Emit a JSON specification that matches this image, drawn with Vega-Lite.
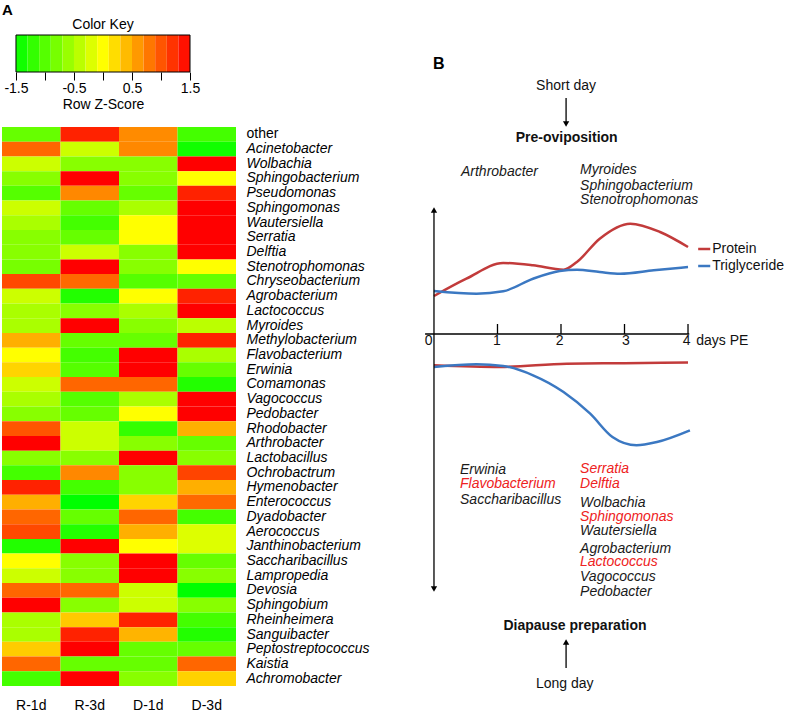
{
  "$schema": "https://vega.github.io/schema/vega-lite/v6.json",
  "padding": {"left": 2, "top": 2, "right": 0, "bottom": 0},
  "background": "white",
  "config": {
    "font": "Liberation Sans",
    "view": {"stroke": null},
    "axis": {"labelColor": "#000", "titleColor": "#000", "labelFontSize": 14, "titleFontSize": 14, "titleFontWeight": "normal", "grid": false},
    "text": {"fontSize": 14, "font": "Liberation Sans"}
  },
  "spacing": 11,
  "hconcat": [
    {
      "title": {"text": "A", "anchor": "start", "fontSize": 15, "fontWeight": "bold", "offset": 0, "color": "#000"},
      "spacing": 15,
      "vconcat": [
        {
          "title": {"text": "Color Key", "fontSize": 14, "fontWeight": "normal", "dx": 7, "offset": 3, "color": "#000"},
          "width": 188,
          "height": 37,
          "data": {"values": [
            {"lo": -1.5, "hi": -1.3, "z": -1.4, "frame": false}, {"lo": -1.3, "hi": -1.1, "z": -1.2, "frame": false}, {"lo": -1.1, "hi": -0.9, "z": -1.0, "frame": false},
            {"lo": -0.9, "hi": -0.7, "z": -0.8, "frame": false}, {"lo": -0.7, "hi": -0.5, "z": -0.6, "frame": false}, {"lo": -0.5, "hi": -0.3, "z": -0.4, "frame": false},
            {"lo": -0.3, "hi": -0.1, "z": -0.2, "frame": false}, {"lo": -0.1, "hi": 0.1, "z": 0.0, "frame": false}, {"lo": 0.1, "hi": 0.3, "z": 0.2, "frame": false},
            {"lo": 0.3, "hi": 0.5, "z": 0.4, "frame": false}, {"lo": 0.5, "hi": 0.7, "z": 0.6, "frame": false}, {"lo": 0.7, "hi": 0.9, "z": 0.8, "frame": false},
            {"lo": 0.9, "hi": 1.1, "z": 1.0, "frame": false}, {"lo": 1.1, "hi": 1.3, "z": 1.2, "frame": false}, {"lo": 1.3, "hi": 1.5, "z": 1.4, "frame": false},
            {"lo": -1.5, "hi": 1.5, "z": 0.0, "frame": true}
          ]},
          "mark": {"type": "rect", "strokeWidth": 1},
          "encoding": {
            "x": {"field": "lo", "type": "quantitative", "scale": {"domain": [-1.741, 1.5], "nice": false, "zero": false},
              "axis": {"orient": "bottom", "values": [-1.5, -1, -0.5, 0, 0.5, 1, 1.5], "domain": false, "tickSize": 8, "tickColor": "#000",
                "labelPadding": 1, "labelFlush": false, "labelOverlap": false,
                "labelExpr": "abs(datum.value) == 1.5 || abs(datum.value) == 0.5 ? (datum.value < 0 ? '-' : '') + format(abs(datum.value), '.1f') : ''",
                "title": "Row Z-Score", "titleX": 101, "titleY": 25, "titleBaseline": "top"}},
            "x2": {"field": "hi"},
            "fill": {"condition": {"test": "datum.frame", "value": "transparent"}, "field": "z", "type": "quantitative", "scale": {"domain": [-1.5, 0, 1.5], "range": ["#00ff00", "#ffff00", "#ff0000"], "interpolate": "rgb"}, "legend": null},
            "stroke": {"condition": {"test": "datum.frame", "value": "#000"}, "value": null}
          }
        },
        {
          "width": 234,
          "height": 559,
          "data": {"values": [
            {"g": "other", "s": "R-1d", "z": -0.9}, {"g": "other", "s": "R-3d", "z": 1.3}, {"g": "other", "s": "D-1d", "z": 0.68}, {"g": "other", "s": "D-3d", "z": -1.1},
            {"g": "Acinetobacter", "s": "R-1d", "z": 0.9}, {"g": "Acinetobacter", "s": "R-3d", "z": -0.3}, {"g": "Acinetobacter", "s": "D-1d", "z": 0.7}, {"g": "Acinetobacter", "s": "D-3d", "z": -1.4},
            {"g": "Wolbachia", "s": "R-1d", "z": -0.3}, {"g": "Wolbachia", "s": "R-3d", "z": -0.7}, {"g": "Wolbachia", "s": "D-1d", "z": -0.7}, {"g": "Wolbachia", "s": "D-3d", "z": 1.5},
            {"g": "Sphingobacterium", "s": "R-1d", "z": -0.7}, {"g": "Sphingobacterium", "s": "R-3d", "z": 1.5}, {"g": "Sphingobacterium", "s": "D-1d", "z": -0.7}, {"g": "Sphingobacterium", "s": "D-3d", "z": 0.0},
            {"g": "Pseudomonas", "s": "R-1d", "z": -1.0}, {"g": "Pseudomonas", "s": "R-3d", "z": 0.7}, {"g": "Pseudomonas", "s": "D-1d", "z": -0.9}, {"g": "Pseudomonas", "s": "D-3d", "z": 1.3},
            {"g": "Sphingomonas", "s": "R-1d", "z": -0.3}, {"g": "Sphingomonas", "s": "R-3d", "z": -0.9}, {"g": "Sphingomonas", "s": "D-1d", "z": -0.5}, {"g": "Sphingomonas", "s": "D-3d", "z": 1.5},
            {"g": "Wautersiella", "s": "R-1d", "z": -0.5}, {"g": "Wautersiella", "s": "R-3d", "z": -1.1}, {"g": "Wautersiella", "s": "D-1d", "z": 0.0}, {"g": "Wautersiella", "s": "D-3d", "z": 1.5},
            {"g": "Serratia", "s": "R-1d", "z": -0.7}, {"g": "Serratia", "s": "R-3d", "z": -0.9}, {"g": "Serratia", "s": "D-1d", "z": 0.0}, {"g": "Serratia", "s": "D-3d", "z": 1.5},
            {"g": "Delftia", "s": "R-1d", "z": -0.7}, {"g": "Delftia", "s": "R-3d", "z": -0.3}, {"g": "Delftia", "s": "D-1d", "z": -0.7}, {"g": "Delftia", "s": "D-3d", "z": 1.5},
            {"g": "Stenotrophomonas", "s": "R-1d", "z": -0.8}, {"g": "Stenotrophomonas", "s": "R-3d", "z": 1.5}, {"g": "Stenotrophomonas", "s": "D-1d", "z": -0.7}, {"g": "Stenotrophomonas", "s": "D-3d", "z": 0.0},
            {"g": "Chryseobacterium", "s": "R-1d", "z": 1.07}, {"g": "Chryseobacterium", "s": "R-3d", "z": 0.88}, {"g": "Chryseobacterium", "s": "D-1d", "z": -1.0}, {"g": "Chryseobacterium", "s": "D-3d", "z": -0.9},
            {"g": "Agrobacterium", "s": "R-1d", "z": -0.3}, {"g": "Agrobacterium", "s": "R-3d", "z": -1.3}, {"g": "Agrobacterium", "s": "D-1d", "z": 0.0}, {"g": "Agrobacterium", "s": "D-3d", "z": 1.3},
            {"g": "Lactococcus", "s": "R-1d", "z": -0.5}, {"g": "Lactococcus", "s": "R-3d", "z": -0.7}, {"g": "Lactococcus", "s": "D-1d", "z": -0.5}, {"g": "Lactococcus", "s": "D-3d", "z": 1.5},
            {"g": "Myroides", "s": "R-1d", "z": -0.5}, {"g": "Myroides", "s": "R-3d", "z": 1.5}, {"g": "Myroides", "s": "D-1d", "z": -0.7}, {"g": "Myroides", "s": "D-3d", "z": -0.4},
            {"g": "Methylobacterium", "s": "R-1d", "z": 0.47}, {"g": "Methylobacterium", "s": "R-3d", "z": -0.9}, {"g": "Methylobacterium", "s": "D-1d", "z": -0.9}, {"g": "Methylobacterium", "s": "D-3d", "z": 1.3},
            {"g": "Flavobacterium", "s": "R-1d", "z": 0.0}, {"g": "Flavobacterium", "s": "R-3d", "z": -1.1}, {"g": "Flavobacterium", "s": "D-1d", "z": 1.5}, {"g": "Flavobacterium", "s": "D-3d", "z": -0.5},
            {"g": "Erwinia", "s": "R-1d", "z": 0.25}, {"g": "Erwinia", "s": "R-3d", "z": -1.0}, {"g": "Erwinia", "s": "D-1d", "z": 1.5}, {"g": "Erwinia", "s": "D-3d", "z": -0.9},
            {"g": "Comamonas", "s": "R-1d", "z": -0.3}, {"g": "Comamonas", "s": "R-3d", "z": 0.9}, {"g": "Comamonas", "s": "D-1d", "z": 0.9}, {"g": "Comamonas", "s": "D-3d", "z": -1.3},
            {"g": "Vagococcus", "s": "R-1d", "z": -0.5}, {"g": "Vagococcus", "s": "R-3d", "z": -1.0}, {"g": "Vagococcus", "s": "D-1d", "z": -0.5}, {"g": "Vagococcus", "s": "D-3d", "z": 1.5},
            {"g": "Pedobacter", "s": "R-1d", "z": -0.7}, {"g": "Pedobacter", "s": "R-3d", "z": -0.9}, {"g": "Pedobacter", "s": "D-1d", "z": 0.0}, {"g": "Pedobacter", "s": "D-3d", "z": 1.5},
            {"g": "Rhodobacter", "s": "R-1d", "z": 1.0}, {"g": "Rhodobacter", "s": "R-3d", "z": -0.3}, {"g": "Rhodobacter", "s": "D-1d", "z": -1.2}, {"g": "Rhodobacter", "s": "D-3d", "z": 0.47},
            {"g": "Arthrobacter", "s": "R-1d", "z": 1.5}, {"g": "Arthrobacter", "s": "R-3d", "z": -0.3}, {"g": "Arthrobacter", "s": "D-1d", "z": -0.7}, {"g": "Arthrobacter", "s": "D-3d", "z": -0.9},
            {"g": "Lactobacillus", "s": "R-1d", "z": -0.7}, {"g": "Lactobacillus", "s": "R-3d", "z": -0.7}, {"g": "Lactobacillus", "s": "D-1d", "z": 1.5}, {"g": "Lactobacillus", "s": "D-3d", "z": -0.7},
            {"g": "Ochrobactrum", "s": "R-1d", "z": -1.1}, {"g": "Ochrobactrum", "s": "R-3d", "z": 0.7}, {"g": "Ochrobactrum", "s": "D-1d", "z": -0.7}, {"g": "Ochrobactrum", "s": "D-3d", "z": 1.1},
            {"g": "Hymenobacter", "s": "R-1d", "z": 1.3}, {"g": "Hymenobacter", "s": "R-3d", "z": -1.1}, {"g": "Hymenobacter", "s": "D-1d", "z": -0.7}, {"g": "Hymenobacter", "s": "D-3d", "z": 0.47},
            {"g": "Enterococcus", "s": "R-1d", "z": 0.47}, {"g": "Enterococcus", "s": "R-3d", "z": -1.5}, {"g": "Enterococcus", "s": "D-1d", "z": 0.25}, {"g": "Enterococcus", "s": "D-3d", "z": 0.88},
            {"g": "Dyadobacter", "s": "R-1d", "z": 0.9}, {"g": "Dyadobacter", "s": "R-3d", "z": -0.9}, {"g": "Dyadobacter", "s": "D-1d", "z": 0.9}, {"g": "Dyadobacter", "s": "D-3d", "z": -1.1},
            {"g": "Aerococcus", "s": "R-1d", "z": 1.07}, {"g": "Aerococcus", "s": "R-3d", "z": -1.3}, {"g": "Aerococcus", "s": "D-1d", "z": 0.47}, {"g": "Aerococcus", "s": "D-3d", "z": -0.2},
            {"g": "Janthinobacterium", "s": "R-1d", "z": -1.3}, {"g": "Janthinobacterium", "s": "R-3d", "z": 1.5}, {"g": "Janthinobacterium", "s": "D-1d", "z": 0.0}, {"g": "Janthinobacterium", "s": "D-3d", "z": -0.2},
            {"g": "Saccharibacillus", "s": "R-1d", "z": 0.0}, {"g": "Saccharibacillus", "s": "R-3d", "z": -0.7}, {"g": "Saccharibacillus", "s": "D-1d", "z": 1.5}, {"g": "Saccharibacillus", "s": "D-3d", "z": -0.9},
            {"g": "Lampropedia", "s": "R-1d", "z": -0.3}, {"g": "Lampropedia", "s": "R-3d", "z": -0.7}, {"g": "Lampropedia", "s": "D-1d", "z": 1.5}, {"g": "Lampropedia", "s": "D-3d", "z": -0.7},
            {"g": "Devosia", "s": "R-1d", "z": 0.9}, {"g": "Devosia", "s": "R-3d", "z": 0.9}, {"g": "Devosia", "s": "D-1d", "z": -0.3}, {"g": "Devosia", "s": "D-3d", "z": -1.5},
            {"g": "Sphingobium", "s": "R-1d", "z": 1.5}, {"g": "Sphingobium", "s": "R-3d", "z": -0.7}, {"g": "Sphingobium", "s": "D-1d", "z": -0.3}, {"g": "Sphingobium", "s": "D-3d", "z": -0.7},
            {"g": "Rheinheimera", "s": "R-1d", "z": -0.5}, {"g": "Rheinheimera", "s": "R-3d", "z": 0.32}, {"g": "Rheinheimera", "s": "D-1d", "z": 1.3}, {"g": "Rheinheimera", "s": "D-3d", "z": -1.1},
            {"g": "Sanguibacter", "s": "R-1d", "z": -0.5}, {"g": "Sanguibacter", "s": "R-3d", "z": 1.3}, {"g": "Sanguibacter", "s": "D-1d", "z": 0.44}, {"g": "Sanguibacter", "s": "D-3d", "z": -1.3},
            {"g": "Peptostreptococcus", "s": "R-1d", "z": 0.3}, {"g": "Peptostreptococcus", "s": "R-3d", "z": 1.5}, {"g": "Peptostreptococcus", "s": "D-1d", "z": -0.9}, {"g": "Peptostreptococcus", "s": "D-3d", "z": -0.9},
            {"g": "Kaistia", "s": "R-1d", "z": 0.9}, {"g": "Kaistia", "s": "R-3d", "z": -0.9}, {"g": "Kaistia", "s": "D-1d", "z": -0.9}, {"g": "Kaistia", "s": "D-3d", "z": 0.9},
            {"g": "Achromobacter", "s": "R-1d", "z": -1.1}, {"g": "Achromobacter", "s": "R-3d", "z": 1.5}, {"g": "Achromobacter", "s": "D-1d", "z": -0.7}, {"g": "Achromobacter", "s": "D-3d", "z": 0.27}
          ]},
          "mark": {"type": "rect"},
          "encoding": {
            "x": {"field": "s", "type": "nominal", "sort": ["R-1d", "R-3d", "D-1d", "D-3d"], "scale": {"paddingInner": 0, "paddingOuter": 0},
              "axis": {"orient": "bottom", "title": null, "ticks": false, "domain": false, "labelAngle": 0, "labelPadding": 12}},
            "y": {"field": "g", "type": "nominal",
              "sort": ["other", "Acinetobacter", "Wolbachia", "Sphingobacterium", "Pseudomonas", "Sphingomonas", "Wautersiella", "Serratia", "Delftia", "Stenotrophomonas", "Chryseobacterium", "Agrobacterium", "Lactococcus", "Myroides", "Methylobacterium", "Flavobacterium", "Erwinia", "Comamonas", "Vagococcus", "Pedobacter", "Rhodobacter", "Arthrobacter", "Lactobacillus", "Ochrobactrum", "Hymenobacter", "Enterococcus", "Dyadobacter", "Aerococcus", "Janthinobacterium", "Saccharibacillus", "Lampropedia", "Devosia", "Sphingobium", "Rheinheimera", "Sanguibacter", "Peptostreptococcus", "Kaistia", "Achromobacter"],
              "scale": {"paddingInner": 0, "paddingOuter": 0},
              "axis": {"orient": "right", "title": null, "ticks": false, "domain": false, "labelPadding": 10, "labelOverlap": false,
                "labelFontStyle": {"condition": {"test": "datum.value == 'other'", "value": "normal"}, "value": "italic"}}},
            "fill": {"field": "z", "type": "quantitative", "scale": {"domain": [-1.5, 0, 1.5], "range": ["#00ff00", "#ffff00", "#ff0000"], "interpolate": "rgb"}, "legend": null}
          }
        }
      ]
    },
    {
      "width": 390,
      "height": 668,
      "encoding": {
        "x": {"field": "day", "type": "quantitative", "scale": {"domain": [-0.85, 5.291], "nice": false, "zero": false}, "axis": null},
        "y": {"field": "level", "type": "quantitative", "scale": {"domain": [-36.9, 29.9], "nice": false, "zero": false}, "axis": null}
      },
      "layer": [
        {
          "data": {"values": [
            {"series": "Protein", "part": "up", "day": 0, "level": 3.8}, {"series": "Protein", "part": "up", "day": 0.51, "level": 5.53},
            {"series": "Protein", "part": "up", "day": 1.09, "level": 7.1}, {"series": "Protein", "part": "up", "day": 1.56, "level": 6.87},
            {"series": "Protein", "part": "up", "day": 2.04, "level": 6.43}, {"series": "Protein", "part": "up", "day": 2.25, "level": 7.2},
            {"series": "Protein", "part": "up", "day": 2.61, "level": 9.53}, {"series": "Protein", "part": "up", "day": 3.09, "level": 11.03},
            {"series": "Protein", "part": "up", "day": 3.56, "level": 10.2}, {"series": "Protein", "part": "up", "day": 4.0, "level": 8.7},
            {"series": "Triglyceride", "part": "up", "day": 0, "level": 4.3}, {"series": "Triglyceride", "part": "up", "day": 0.67, "level": 4.03},
            {"series": "Triglyceride", "part": "up", "day": 1.09, "level": 4.27}, {"series": "Triglyceride", "part": "up", "day": 1.56, "level": 5.53},
            {"series": "Triglyceride", "part": "up", "day": 1.98, "level": 6.3}, {"series": "Triglyceride", "part": "up", "day": 2.25, "level": 6.43},
            {"series": "Triglyceride", "part": "up", "day": 2.61, "level": 6.2}, {"series": "Triglyceride", "part": "up", "day": 2.93, "level": 6.03},
            {"series": "Triglyceride", "part": "up", "day": 3.46, "level": 6.37}, {"series": "Triglyceride", "part": "up", "day": 4.0, "level": 6.7},
            {"series": "Protein", "part": "down", "day": 0, "level": -3.13}, {"series": "Protein", "part": "down", "day": 1.04, "level": -3.3},
            {"series": "Protein", "part": "down", "day": 2.09, "level": -2.97}, {"series": "Protein", "part": "down", "day": 3.0, "level": -2.92},
            {"series": "Protein", "part": "down", "day": 4.0, "level": -2.85},
            {"series": "Triglyceride", "part": "down", "day": 0, "level": -3.3}, {"series": "Triglyceride", "part": "down", "day": 0.67, "level": -3.03},
            {"series": "Triglyceride", "part": "down", "day": 1.09, "level": -3.2}, {"series": "Triglyceride", "part": "down", "day": 1.56, "level": -4.13},
            {"series": "Triglyceride", "part": "down", "day": 2.04, "level": -5.8}, {"series": "Triglyceride", "part": "down", "day": 2.46, "level": -7.97},
            {"series": "Triglyceride", "part": "down", "day": 2.81, "level": -10.3}, {"series": "Triglyceride", "part": "down", "day": 3.19, "level": -11.13},
            {"series": "Triglyceride", "part": "down", "day": 3.51, "level": -10.8}, {"series": "Triglyceride", "part": "down", "day": 4.03, "level": -9.63}
          ]},
          "mark": {"type": "line", "interpolate": "monotone", "strokeWidth": 2.5},
          "encoding": {
            "color": {"field": "series", "type": "nominal", "scale": {"domain": ["Protein", "Triglyceride"], "range": ["#c23b3b", "#3b78c2"]}, "legend": null},
            "detail": {"field": "part"}
          }
        },
        {
          "data": {"values": [
            {"series": "Protein", "day": 4.16, "day2": 4.35, "level": 8.5},
            {"series": "Triglyceride", "day": 4.16, "day2": 4.35, "level": 6.8}
          ]},
          "mark": {"type": "rule", "strokeWidth": 2.5},
          "encoding": {
            "x2": {"field": "day2"},
            "color": {"field": "series", "type": "nominal", "scale": {"domain": ["Protein", "Triglyceride"], "range": ["#c23b3b", "#3b78c2"]}, "legend": null}
          }
        },
        {
          "data": {"values": [
            {"day": -0.14, "level": 0, "day2": 4.02, "level2": 0},
            {"day": 0, "level": 12.3, "day2": 0, "level2": -25.4},
            {"day": 1, "level": 0, "day2": 1, "level2": 1},
            {"day": 2, "level": 0, "day2": 2, "level2": 1},
            {"day": 3, "level": 0, "day2": 3, "level2": 1},
            {"day": 4, "level": 0, "day2": 4, "level2": 1},
            {"day": 2.08, "level": 23.6, "day2": 2.08, "level2": 21.2},
            {"day": 2.08, "level": -33.4, "day2": 2.08, "level2": -31.0}
          ]},
          "mark": {"type": "rule", "color": "#000", "strokeWidth": 1.3},
          "encoding": {"x2": {"field": "day2"}, "y2": {"field": "level2"}}
        },
        {
          "data": {"values": [
            {"day": 0, "level": 12.4, "dir": "up"},
            {"day": 0, "level": -25.5, "dir": "down"},
            {"day": 2.08, "level": 21.0, "dir": "down"},
            {"day": 2.08, "level": -30.8, "dir": "up"}
          ]},
          "mark": {"type": "point", "filled": true, "color": "#000", "opacity": 1, "size": 40},
          "encoding": {"shape": {"field": "dir", "type": "nominal", "scale": {"domain": ["up", "down"], "range": ["triangle-up", "triangle-down"]}, "legend": null}}
        },
        {
          "data": {"values": [
            {"label": "Short day", "day": 2.08, "level": 24.8},
            {"label": "Long day", "day": 2.06, "level": -35.0},
            {"label": "0", "day": -0.085, "level": -0.7},
            {"label": "1", "day": 0.99, "level": -0.7},
            {"label": "2", "day": 1.98, "level": -0.7},
            {"label": "3", "day": 3.02, "level": -0.7},
            {"label": "4", "day": 3.98, "level": -0.7}
          ]},
          "mark": {"type": "text", "align": "center", "baseline": "middle", "fontSize": 14, "color": "#111"},
          "encoding": {"text": {"field": "label"}}
        },
        {
          "data": {"values": [
            {"label": "days PE", "day": 4.13, "level": -0.7},
            {"label": "Protein", "day": 4.38, "level": 8.5},
            {"label": "Triglyceride", "day": 4.38, "level": 6.8}
          ]},
          "mark": {"type": "text", "align": "left", "baseline": "middle", "fontSize": 14, "color": "#111"},
          "encoding": {"text": {"field": "label"}}
        },
        {
          "data": {"values": [
            {"label": "Pre-oviposition", "day": 2.09, "level": 19.6},
            {"label": "Diapause preparation", "day": 2.22, "level": -29.2}
          ]},
          "mark": {"type": "text", "align": "center", "baseline": "middle", "fontSize": 14, "fontWeight": "bold", "color": "#111"},
          "encoding": {"text": {"field": "label"}}
        },
        {
          "data": {"values": [{"label": "B", "day": -0.016, "level": 27.0}]},
          "mark": {"type": "text", "align": "left", "baseline": "middle", "fontSize": 16, "fontWeight": "bold", "color": "#000"},
          "encoding": {"text": {"field": "label"}}
        },
        {
          "data": {"values": [
            {"label": "Arthrobacter", "day": 0.425, "level": 16.2, "marked": false},
            {"label": "Myroides", "day": 2.3, "level": 16.4, "marked": false},
            {"label": "Sphingobacterium", "day": 2.3, "level": 14.8, "marked": false},
            {"label": "Stenotrophomonas", "day": 2.3, "level": 13.4, "marked": false},
            {"label": "Erwinia", "day": 0.41, "level": -13.6, "marked": false},
            {"label": "Flavobacterium", "day": 0.41, "level": -15.0, "marked": true},
            {"label": "Saccharibacillus", "day": 0.41, "level": -16.6, "marked": false},
            {"label": "Serratia", "day": 2.3, "level": -13.5, "marked": true},
            {"label": "Delftia", "day": 2.3, "level": -15.0, "marked": true},
            {"label": "Wolbachia", "day": 2.3, "level": -16.9, "marked": false},
            {"label": "Sphingomonas", "day": 2.3, "level": -18.3, "marked": true},
            {"label": "Wautersiella", "day": 2.3, "level": -19.7, "marked": false},
            {"label": "Agrobacterium", "day": 2.3, "level": -21.5, "marked": false},
            {"label": "Lactococcus", "day": 2.3, "level": -22.8, "marked": true},
            {"label": "Vagococcus", "day": 2.3, "level": -24.3, "marked": false},
            {"label": "Pedobacter", "day": 2.3, "level": -25.8, "marked": false}
          ]},
          "mark": {"type": "text", "align": "left", "baseline": "middle", "fontSize": 14, "fontStyle": "italic"},
          "encoding": {
            "text": {"field": "label"},
            "color": {"condition": {"test": "datum.marked", "value": "#ee2222"}, "value": "#1a1a1a"}
          }
        }
      ]
    }
  ]
}
